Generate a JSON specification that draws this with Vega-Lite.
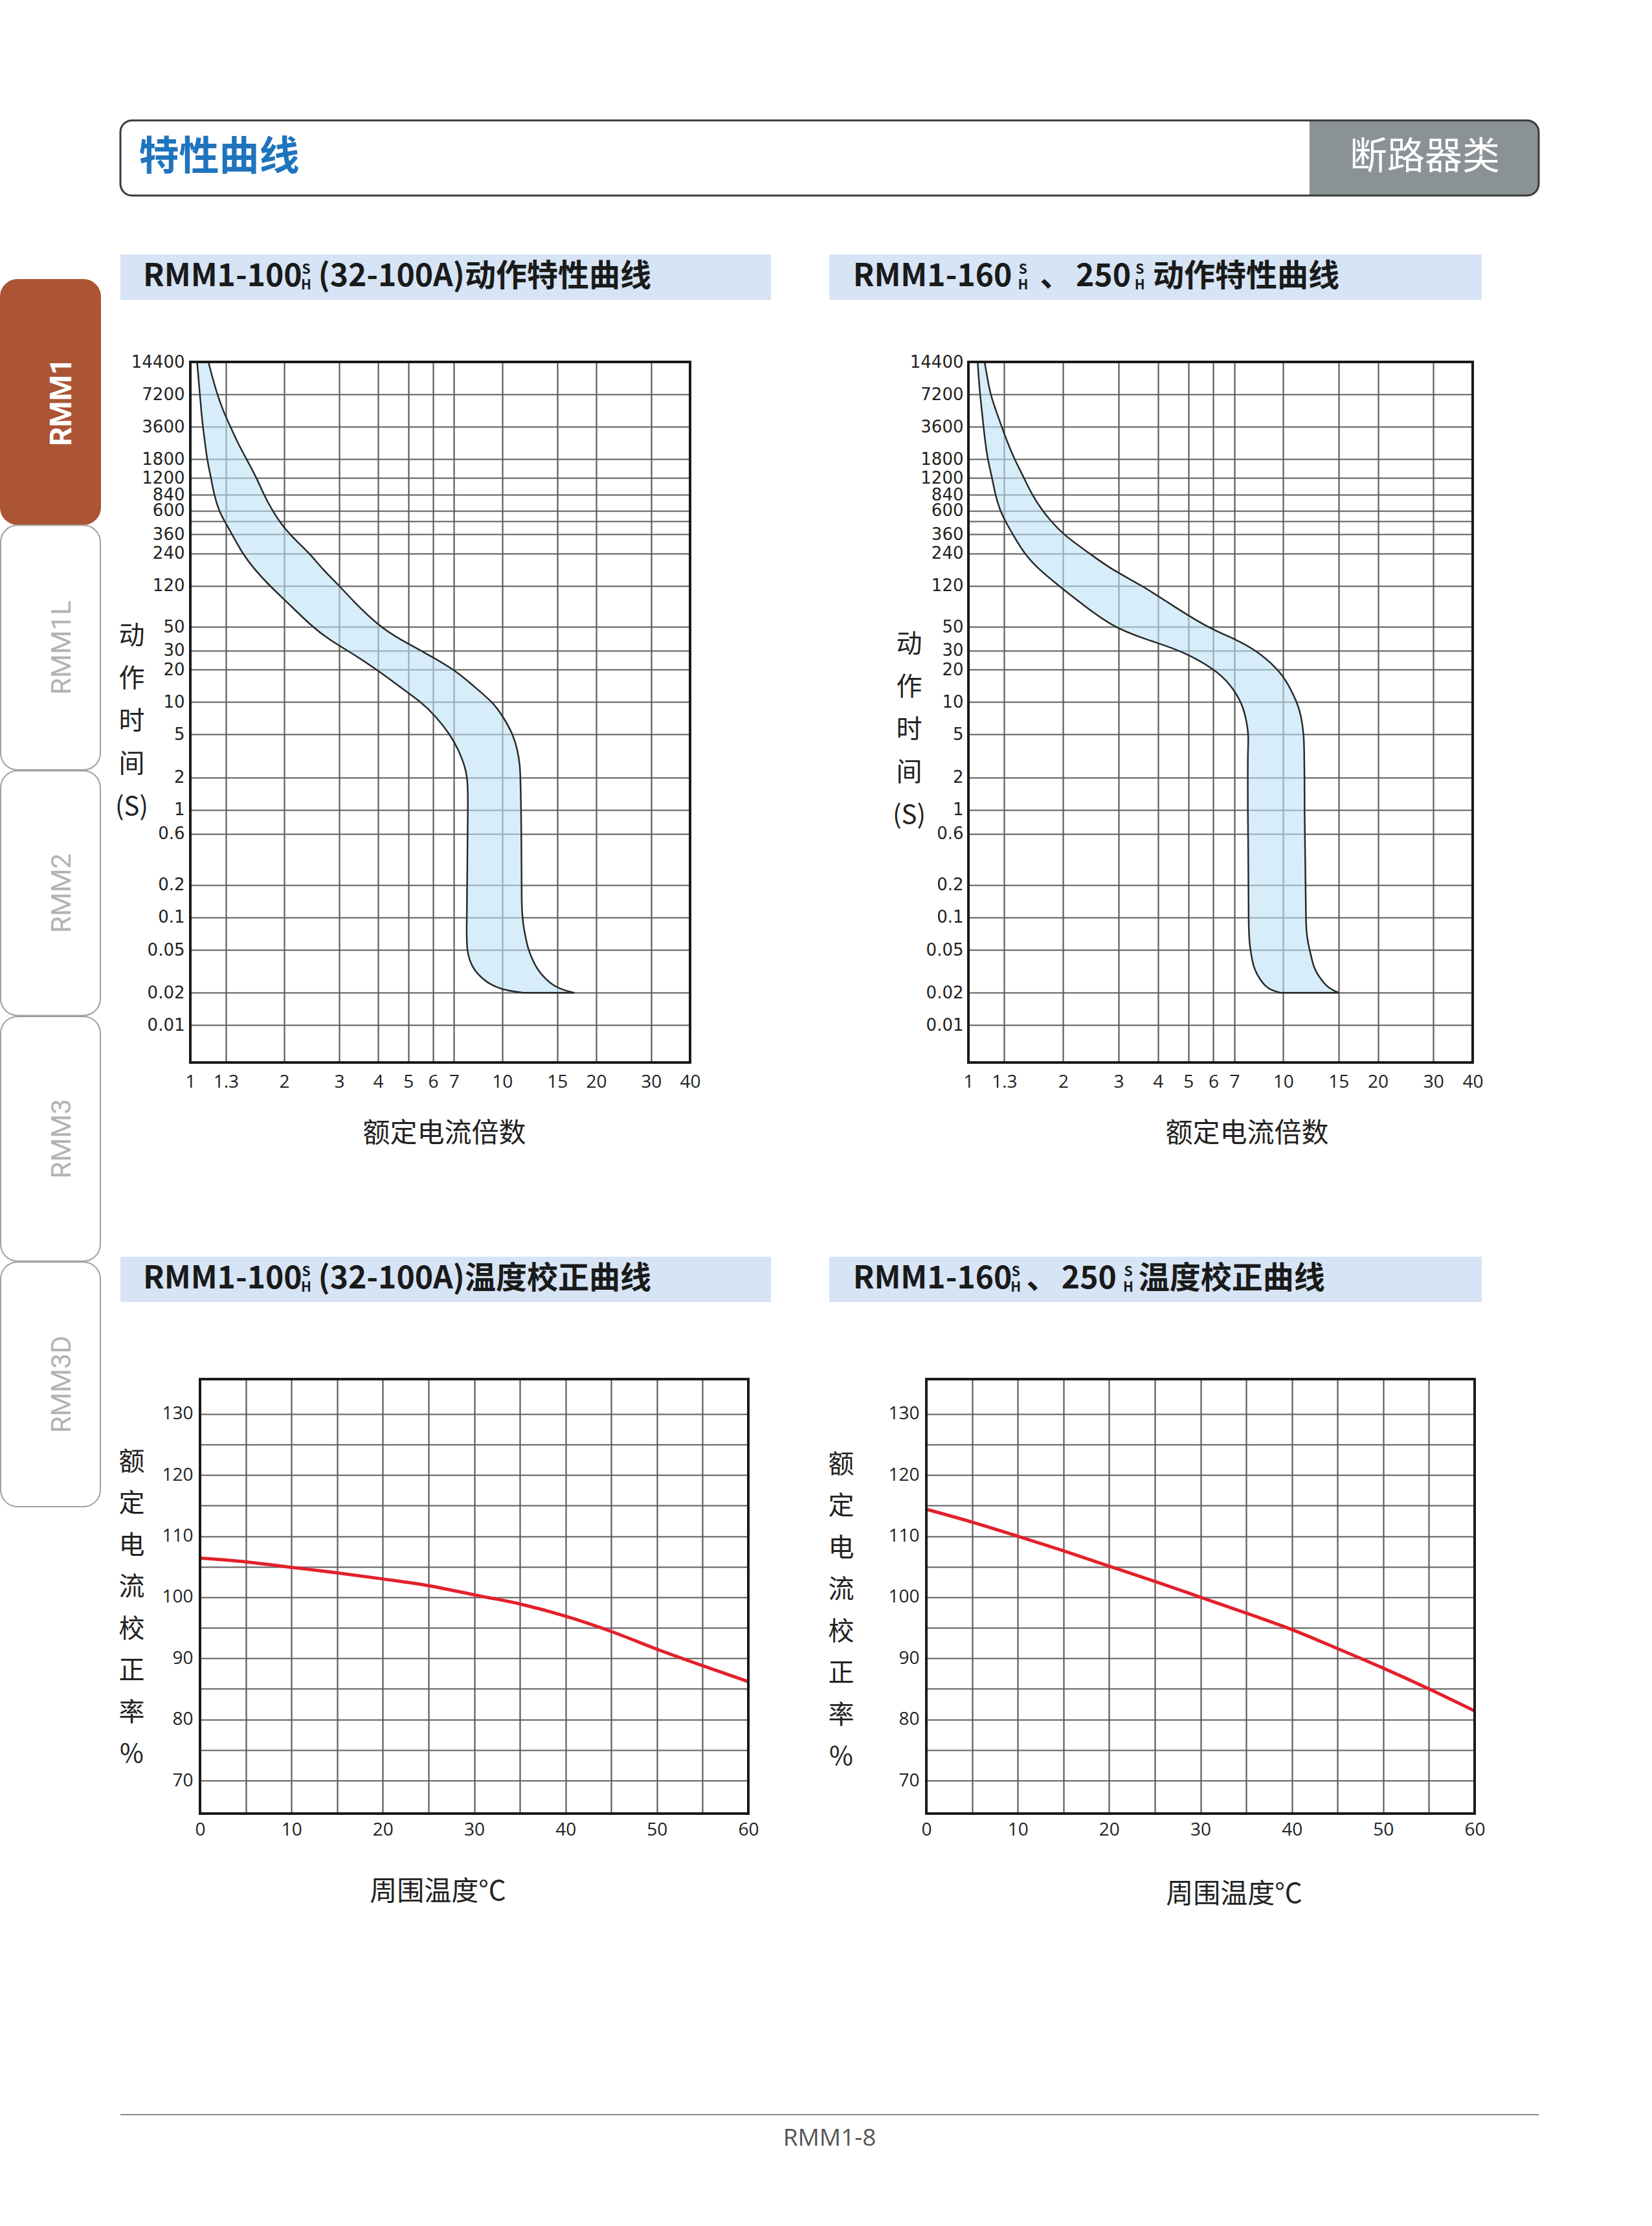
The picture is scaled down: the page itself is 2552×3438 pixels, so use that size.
{
"$schema": "https://vega.github.io/schema/vega-lite/v6.json",
"background": "white",
"padding": {"left": 0, "top": 184, "right": 0, "bottom": 0},
"bounds": "flush",
"spacing": 185,
"config": {"view": {"stroke": null}, "font": "Noto Sans CJK SC"},
"hconcat": [
 {"bounds": "flush", "spacing": 245, "vconcat": [
   {"width": 1, "height": 1, "data": {"values": [{}]}, "mark": {"type": "point", "opacity": 0, "size": 0}},
   {"width": 154, "height": 1895,
    "data": {"values": [{"tab": "RMM1", "active": "yes"}, {"tab": "RMM1L", "active": "no"}, {"tab": "RMM2", "active": "no"}, {"tab": "RMM3", "active": "no"}, {"tab": "RMM3D", "active": "no"}]},
    "layer": [
     {"transform": [{"filter": "datum.active == 'yes'"}],
      "mark": {"type": "rect", "cornerRadius": 26, "fill": "#AC5534", "stroke": "#AC5534", "strokeWidth": 2},
      "encoding": {"y": {"field": "tab", "type": "nominal", "scale": {"domain": ["RMM1", "RMM1L", "RMM2", "RMM3", "RMM3D"], "paddingInner": 0.004, "paddingOuter": 0}, "axis": null},
        "x": {"datum": 0, "type": "quantitative", "scale": {"domain": [0, 1], "nice": false}, "axis": null}, "x2": {"datum": 1}}},
     {"transform": [{"filter": "datum.active == 'no'"}],
      "mark": {"type": "rect", "cornerRadius": 26, "fill": "#FFFFFF", "stroke": "#A0A0A0", "strokeWidth": 2},
      "encoding": {"y": {"field": "tab", "type": "nominal"}, "x": {"datum": 0, "type": "quantitative"}, "x2": {"datum": 1}}},
     {"transform": [{"filter": "datum.active == 'yes'"}],
      "mark": {"type": "text", "angle": 270, "align": "center", "baseline": "middle", "font": "Roboto", "fontWeight": "bold", "fontSize": 46, "color": "#FFFFFF"},
      "encoding": {"y": {"field": "tab", "type": "nominal"}, "x": {"datum": 0.62, "type": "quantitative"}, "text": {"field": "tab"}}},
     {"transform": [{"filter": "datum.active == 'no'"}],
      "mark": {"type": "text", "angle": 270, "align": "center", "baseline": "middle", "font": "Roboto", "fontSize": 42, "color": "#B3B3B3"},
      "encoding": {"y": {"field": "tab", "type": "nominal"}, "x": {"datum": 0.62, "type": "quantitative"}, "text": {"field": "tab"}}}
    ]}
 ]},
 {"bounds": "flush", "spacing": 3080, "vconcat": [
  {"bounds": "flush", "spacing": 1755, "vconcat": [
   {"bounds": "flush", "spacing": 373, "vconcat": [
    {"bounds": "flush", "spacing": 91, "vconcat": [
     {"width": 2191, "height": 116, "data": {"values": [{}]},
      "layer": [
       {"mark": {"type": "rect", "fill": "#FFFFFF", "cornerRadius": 18},
        "encoding": {"x": {"datum": 0, "type": "quantitative", "scale": {"domain": [0, 1], "nice": false}, "axis": null}, "x2": {"datum": 1},
          "y": {"datum": 0, "type": "quantitative", "scale": {"domain": [0, 1], "nice": false}, "axis": null}, "y2": {"datum": 1}}},
       {"mark": {"type": "rect", "fill": "#8A9296", "cornerRadiusTopRight": 18, "cornerRadiusBottomRight": 18},
        "encoding": {"x": {"datum": 0.8384, "type": "quantitative"}, "x2": {"datum": 1}, "y": {"datum": 0, "type": "quantitative"}, "y2": {"datum": 1}}},
       {"mark": {"type": "rect", "fillOpacity": 0, "stroke": "#3a3a3a", "strokeWidth": 3, "cornerRadius": 18},
        "encoding": {"x": {"datum": 0, "type": "quantitative"}, "x2": {"datum": 1}, "y": {"datum": 0, "type": "quantitative"}, "y2": {"datum": 1}}},
       {"mark": {"type": "text", "align": "left", "baseline": "middle", "fontSize": 62, "fontWeight": "bold", "color": "#1F74BE"},
        "encoding": {"x": {"datum": 0.013, "type": "quantitative"}, "y": {"datum": 0.5, "type": "quantitative"}, "text": {"value": "特性曲线"}}},
       {"mark": {"type": "text", "align": "center", "baseline": "middle", "fontSize": 58, "color": "#FFFFFF"},
        "encoding": {"x": {"datum": 0.9197, "type": "quantitative"}, "y": {"datum": 0.5, "type": "quantitative"}, "text": {"value": "断路器类"}}}
      ]},
     {"bounds": "flush", "spacing": 90, "hconcat": [
      {"width": 1005, "height": 70, "view": {"fill": "#D6E4F5", "stroke": null}, "data": {"values": [{}]},
       "layer": [
        {"mark": {"type": "text", "align": "left", "baseline": "middle", "fontSize": 48, "fontWeight": "bold", "color": "#1a1a1a"},
         "encoding": {"x": {"datum": 0.0348, "type": "quantitative", "scale": {"domain": [0, 1], "nice": false}, "axis": null}, "y": {"datum": 0.5, "type": "quantitative", "scale": {"domain": [0, 1], "nice": false}, "axis": null}, "text": {"value": "RMM1-100"}}},
        {"mark": {"type": "text", "align": "center", "baseline": "middle", "fontSize": 21, "fontWeight": "bold", "color": "#1a1a1a"},
         "encoding": {"x": {"datum": 0.2856, "type": "quantitative"}, "y": {"datum": 0.657, "type": "quantitative"}, "text": {"value": "S"}}},
        {"mark": {"type": "text", "align": "center", "baseline": "middle", "fontSize": 21, "fontWeight": "bold", "color": "#1a1a1a"},
         "encoding": {"x": {"datum": 0.2856, "type": "quantitative"}, "y": {"datum": 0.314, "type": "quantitative"}, "text": {"value": "H"}}},
        {"mark": {"type": "text", "align": "left", "baseline": "middle", "fontSize": 48, "fontWeight": "bold", "color": "#1a1a1a"},
         "encoding": {"x": {"datum": 0.304, "type": "quantitative"}, "y": {"datum": 0.5, "type": "quantitative"}, "text": {"value": "(32-100A)动作特性曲线"}}}
       ]},
      {"width": 1008, "height": 70, "view": {"fill": "#D6E4F5", "stroke": null}, "data": {"values": [{}]},
       "layer": [
        {"mark": {"type": "text", "align": "left", "baseline": "middle", "fontSize": 48, "fontWeight": "bold", "color": "#1a1a1a"},
         "encoding": {"x": {"datum": 0.0364, "type": "quantitative", "scale": {"domain": [0, 1], "nice": false}, "axis": null}, "y": {"datum": 0.5, "type": "quantitative", "scale": {"domain": [0, 1], "nice": false}, "axis": null}, "text": {"value": "RMM1-160"}}},
        {"mark": {"type": "text", "align": "center", "baseline": "middle", "fontSize": 21, "fontWeight": "bold", "color": "#1a1a1a"},
         "encoding": {"x": {"datum": 0.297, "type": "quantitative"}, "y": {"datum": 0.657, "type": "quantitative"}, "text": {"value": "S"}}},
        {"mark": {"type": "text", "align": "center", "baseline": "middle", "fontSize": 21, "fontWeight": "bold", "color": "#1a1a1a"},
         "encoding": {"x": {"datum": 0.297, "type": "quantitative"}, "y": {"datum": 0.314, "type": "quantitative"}, "text": {"value": "H"}}},
        {"mark": {"type": "text", "align": "left", "baseline": "middle", "fontSize": 48, "fontWeight": "bold", "color": "#1a1a1a"},
         "encoding": {"x": {"datum": 0.323, "type": "quantitative"}, "y": {"datum": 0.5, "type": "quantitative"}, "text": {"value": "、"}}},
        {"mark": {"type": "text", "align": "left", "baseline": "middle", "fontSize": 48, "fontWeight": "bold", "color": "#1a1a1a"},
         "encoding": {"x": {"datum": 0.378, "type": "quantitative"}, "y": {"datum": 0.5, "type": "quantitative"}, "text": {"value": "250"}}},
        {"mark": {"type": "text", "align": "center", "baseline": "middle", "fontSize": 21, "fontWeight": "bold", "color": "#1a1a1a"},
         "encoding": {"x": {"datum": 0.476, "type": "quantitative"}, "y": {"datum": 0.657, "type": "quantitative"}, "text": {"value": "S"}}},
        {"mark": {"type": "text", "align": "center", "baseline": "middle", "fontSize": 21, "fontWeight": "bold", "color": "#1a1a1a"},
         "encoding": {"x": {"datum": 0.476, "type": "quantitative"}, "y": {"datum": 0.314, "type": "quantitative"}, "text": {"value": "H"}}},
        {"mark": {"type": "text", "align": "left", "baseline": "middle", "fontSize": 48, "fontWeight": "bold", "color": "#1a1a1a"},
         "encoding": {"x": {"datum": 0.496, "type": "quantitative"}, "y": {"datum": 0.5, "type": "quantitative"}, "text": {"value": "动作特性曲线"}}}
       ]}
     ]}
    ]},
    {"bounds": "flush", "spacing": 1310, "hconcat": [
     {"bounds": "flush", "spacing": 107, "hconcat": [
      {"width": 1, "height": 1, "data": {"values": [{}]}, "mark": {"type": "point", "opacity": 0, "size": 0}},
      {"width": 772, "height": 1082,
       "layer": [
        {"data": {"values": [
          {"t": 14400, "lo": 1.051, "hi": 1.143}, {"t": 10250, "lo": 1.062, "hi": 1.178}, {"t": 7200, "lo": 1.073, "hi": 1.22}, {"t": 5091, "lo": 1.084, "hi": 1.273},
          {"t": 3600, "lo": 1.097, "hi": 1.345}, {"t": 2597, "lo": 1.114, "hi": 1.415}, {"t": 1800, "lo": 1.131, "hi": 1.514}, {"t": 1200, "lo": 1.166, "hi": 1.633},
          {"t": 840, "lo": 1.192, "hi": 1.721}, {"t": 600, "lo": 1.235, "hi": 1.833}, {"t": 480, "lo": 1.286, "hi": 1.927}, {"t": 360, "lo": 1.362, "hi": 2.078},
          {"t": 240, "lo": 1.469, "hi": 2.416}, {"t": 171, "lo": 1.604, "hi": 2.652}, {"t": 120, "lo": 1.797, "hi": 3.007}, {"t": 86.6, "lo": 2.027, "hi": 3.326},
          {"t": 50, "lo": 2.459, "hi": 4.046}, {"t": 37.9, "lo": 2.789, "hi": 4.727}, {"t": 30, "lo": 3.203, "hi": 5.499}, {"t": 20, "lo": 3.965, "hi": 7.035},
          {"t": 14.4, "lo": 4.611, "hi": 8.018}, {"t": 10, "lo": 5.499, "hi": 9.32}, {"t": 7.54, "lo": 6.078, "hi": 10.0}, {"t": 5, "lo": 6.808, "hi": 10.84},
          {"t": 3.57, "lo": 7.251, "hi": 11.2}, {"t": 2.55, "lo": 7.586, "hi": 11.4}, {"t": 2, "lo": 7.72, "hi": 11.43}, {"t": 1.47, "lo": 7.76, "hi": 11.46},
          {"t": 1, "lo": 7.76, "hi": 11.49}, {"t": 0.6, "lo": 7.74, "hi": 11.51}, {"t": 0.2, "lo": 7.72, "hi": 11.54}, {"t": 0.136, "lo": 7.702, "hi": 11.54},
          {"t": 0.1, "lo": 7.702, "hi": 11.6}, {"t": 0.076, "lo": 7.683, "hi": 11.75}, {"t": 0.0579, "lo": 7.702, "hi": 11.99}, {"t": 0.05, "lo": 7.72, "hi": 12.14},
          {"t": 0.0396, "lo": 7.859, "hi": 12.54}, {"t": 0.0326, "lo": 8.121, "hi": 12.99}, {"t": 0.0268, "lo": 8.646, "hi": 13.76}, {"t": 0.0231, "lo": 9.32, "hi": 14.66},
          {"t": 0.021, "lo": 10.3, "hi": 15.81}, {"t": 0.02, "lo": 11.69, "hi": 17.03}]},
         "mark": {"type": "area", "orient": "horizontal", "interpolate": "basis", "fill": "#BCE3F7", "fillOpacity": 0.6, "stroke": "#2a2a2a", "strokeWidth": 2.5},
         "encoding": {
          "y": {"field": "t", "type": "quantitative", "scale": {"type": "log", "domain": [0.0045, 14400], "nice": false},
           "axis": {"values": [14400, 7200, 3600, 1800, 1200, 840, 600, 480, 360, 240, 120, 50, 30, 20, 10, 5, 2, 1, 0.6, 0.2, 0.1, 0.05, 0.02, 0.01],
            "format": "~g", "labelExpr": "datum.value == 480 ? '' : datum.label", "grid": true, "gridColor": "#5c5c5c", "gridWidth": 2.2, "ticks": false, "domain": false,
            "labelFont": "DejaVu Sans", "labelFontSize": 26, "labelColor": "#222", "labelPadding": 9, "labelOverlap": false, "labelFlush": false, "labelBaseline": "middle",
            "title": ["动", "作", "时", "间", "(S)"], "titleFont": "Noto Sans CJK SC", "titleFontSize": 40, "titleFontWeight": "normal", "titleColor": "#222",
            "titleAngle": 0, "titleAlign": "center", "titleBaseline": "middle", "titleLineHeight": 66, "titleX": -91, "titleY": 423}},
          "x": {"field": "lo", "type": "quantitative", "scale": {"type": "log", "domain": [1, 40], "nice": false},
           "axis": {"values": [1, 1.3, 2, 3, 4, 5, 6, 7, 10, 15, 20, 30, 40], "format": "~g", "grid": true, "gridColor": "#5c5c5c", "gridWidth": 2.2, "ticks": false, "domain": false,
            "labelFont": "Open Sans", "labelFontSize": 28, "labelColor": "#222", "labelPadding": 16, "labelOverlap": false, "labelFlush": false,
            "title": "额定电流倍数", "titleFont": "Noto Sans CJK SC", "titleFontSize": 42, "titleFontWeight": "normal", "titleColor": "#222",
            "titleX": 392, "titleY": 109, "titleAlign": "center", "titleBaseline": "middle"}},
          "x2": {"field": "hi"}}},
        {"data": {"values": [{}]},
         "mark": {"type": "rect", "fillOpacity": 0, "stroke": "#1a1a1a", "strokeWidth": 4},
         "encoding": {"x": {"datum": 1, "type": "quantitative"}, "x2": {"datum": 40}, "y": {"datum": 0.0045, "type": "quantitative"}, "y2": {"datum": 14400}}}
       ]}
     ]},
     {"width": 779, "height": 1082,
      "layer": [
       {"data": {"values": [
         {"t": 14400, "lo": 1.07, "hi": 1.126}, {"t": 10250, "lo": 1.078, "hi": 1.148}, {"t": 7200, "lo": 1.089, "hi": 1.175}, {"t": 5091, "lo": 1.103, "hi": 1.223},
         {"t": 3600, "lo": 1.117, "hi": 1.276}, {"t": 2597, "lo": 1.131, "hi": 1.329}, {"t": 1800, "lo": 1.151, "hi": 1.401}, {"t": 1200, "lo": 1.19, "hi": 1.503},
         {"t": 840, "lo": 1.217, "hi": 1.593}, {"t": 600, "lo": 1.261, "hi": 1.718}, {"t": 480, "lo": 1.309, "hi": 1.829}, {"t": 360, "lo": 1.384, "hi": 1.998},
         {"t": 240, "lo": 1.503, "hi": 2.425}, {"t": 171, "lo": 1.671, "hi": 2.842}, {"t": 120, "lo": 1.939, "hi": 3.573}, {"t": 86.6, "lo": 2.232, "hi": 4.24},
         {"t": 50, "lo": 2.856, "hi": 5.677}, {"t": 37.9, "lo": 3.69, "hi": 7.121}, {"t": 30, "lo": 4.771, "hi": 8.239}, {"t": 20, "lo": 6.091, "hi": 9.678},
         {"t": 14.4, "lo": 6.823, "hi": 10.41}, {"t": 10, "lo": 7.358, "hi": 11.06}, {"t": 7.54, "lo": 7.584, "hi": 11.4}, {"t": 5, "lo": 7.778, "hi": 11.63},
         {"t": 3.57, "lo": 7.72, "hi": 11.66}, {"t": 2, "lo": 7.72, "hi": 11.69}, {"t": 1, "lo": 7.72, "hi": 11.69}, {"t": 0.6, "lo": 7.737, "hi": 11.72},
         {"t": 0.2, "lo": 7.757, "hi": 11.78}, {"t": 0.1, "lo": 7.766, "hi": 11.81}, {"t": 0.076, "lo": 7.778, "hi": 11.84}, {"t": 0.0579, "lo": 7.817, "hi": 11.99},
         {"t": 0.05, "lo": 7.876, "hi": 12.14}, {"t": 0.0396, "lo": 7.974, "hi": 12.36}, {"t": 0.0326, "lo": 8.117, "hi": 12.6}, {"t": 0.0268, "lo": 8.426, "hi": 13.16},
         {"t": 0.0231, "lo": 8.75, "hi": 13.7}, {"t": 0.021, "lo": 9.204, "hi": 14.41}, {"t": 0.02, "lo": 9.8, "hi": 15.03}]},
        "mark": {"type": "area", "orient": "horizontal", "interpolate": "basis", "fill": "#BCE3F7", "fillOpacity": 0.6, "stroke": "#2a2a2a", "strokeWidth": 2.5},
        "encoding": {
         "y": {"field": "t", "type": "quantitative", "scale": {"type": "log", "domain": [0.0045, 14400], "nice": false},
          "axis": {"values": [14400, 7200, 3600, 1800, 1200, 840, 600, 480, 360, 240, 120, 50, 30, 20, 10, 5, 2, 1, 0.6, 0.2, 0.1, 0.05, 0.02, 0.01],
           "format": "~g", "labelExpr": "datum.value == 480 ? '' : datum.label", "grid": true, "gridColor": "#5c5c5c", "gridWidth": 2.2, "ticks": false, "domain": false,
           "labelFont": "DejaVu Sans", "labelFontSize": 26, "labelColor": "#222", "labelPadding": 8, "labelOverlap": false, "labelFlush": false, "labelBaseline": "middle",
           "title": ["动", "作", "时", "间", "(S)"], "titleFont": "Noto Sans CJK SC", "titleFontSize": 40, "titleFontWeight": "normal", "titleColor": "#222",
           "titleAngle": 0, "titleAlign": "center", "titleBaseline": "middle", "titleLineHeight": 66, "titleX": -92, "titleY": 436}},
         "x": {"field": "lo", "type": "quantitative", "scale": {"type": "log", "domain": [1, 40], "nice": false},
          "axis": {"values": [1, 1.3, 2, 3, 4, 5, 6, 7, 10, 15, 20, 30, 40], "format": "~g", "grid": true, "gridColor": "#5c5c5c", "gridWidth": 2.2, "ticks": false, "domain": false,
           "labelFont": "Open Sans", "labelFontSize": 28, "labelColor": "#222", "labelPadding": 16, "labelOverlap": false, "labelFlush": false,
           "title": "额定电流倍数", "titleFont": "Noto Sans CJK SC", "titleFontSize": 42, "titleFontWeight": "normal", "titleColor": "#222",
           "titleX": 430, "titleY": 109, "titleAlign": "center", "titleBaseline": "middle"}},
         "x2": {"field": "hi"}}},
       {"data": {"values": [{}]},
        "mark": {"type": "rect", "fillOpacity": 0, "stroke": "#1a1a1a", "strokeWidth": 4},
        "encoding": {"x": {"datum": 1, "type": "quantitative"}, "x2": {"datum": 40}, "y": {"datum": 0.0045, "type": "quantitative"}, "y2": {"datum": 14400}}}
      ]}
    ]}
   ]},
   {"bounds": "flush", "spacing": 189, "vconcat": [
    {"bounds": "flush", "spacing": 90, "hconcat": [
     {"width": 1005, "height": 70, "view": {"fill": "#D6E4F5", "stroke": null}, "data": {"values": [{}]},
      "layer": [
       {"mark": {"type": "text", "align": "left", "baseline": "middle", "fontSize": 48, "fontWeight": "bold", "color": "#1a1a1a"},
        "encoding": {"x": {"datum": 0.0348, "type": "quantitative", "scale": {"domain": [0, 1], "nice": false}, "axis": null}, "y": {"datum": 0.5, "type": "quantitative", "scale": {"domain": [0, 1], "nice": false}, "axis": null}, "text": {"value": "RMM1-100"}}},
       {"mark": {"type": "text", "align": "center", "baseline": "middle", "fontSize": 21, "fontWeight": "bold", "color": "#1a1a1a"},
        "encoding": {"x": {"datum": 0.2856, "type": "quantitative"}, "y": {"datum": 0.657, "type": "quantitative"}, "text": {"value": "S"}}},
       {"mark": {"type": "text", "align": "center", "baseline": "middle", "fontSize": 21, "fontWeight": "bold", "color": "#1a1a1a"},
        "encoding": {"x": {"datum": 0.2856, "type": "quantitative"}, "y": {"datum": 0.314, "type": "quantitative"}, "text": {"value": "H"}}},
       {"mark": {"type": "text", "align": "left", "baseline": "middle", "fontSize": 48, "fontWeight": "bold", "color": "#1a1a1a"},
        "encoding": {"x": {"datum": 0.304, "type": "quantitative"}, "y": {"datum": 0.5, "type": "quantitative"}, "text": {"value": "(32-100A)温度校正曲线"}}}
      ]},
     {"width": 1008, "height": 70, "view": {"fill": "#D6E4F5", "stroke": null}, "data": {"values": [{}]},
      "layer": [
       {"mark": {"type": "text", "align": "left", "baseline": "middle", "fontSize": 48, "fontWeight": "bold", "color": "#1a1a1a"},
        "encoding": {"x": {"datum": 0.0364, "type": "quantitative", "scale": {"domain": [0, 1], "nice": false}, "axis": null}, "y": {"datum": 0.5, "type": "quantitative", "scale": {"domain": [0, 1], "nice": false}, "axis": null}, "text": {"value": "RMM1-160"}}},
       {"mark": {"type": "text", "align": "center", "baseline": "middle", "fontSize": 21, "fontWeight": "bold", "color": "#1a1a1a"},
        "encoding": {"x": {"datum": 0.286, "type": "quantitative"}, "y": {"datum": 0.657, "type": "quantitative"}, "text": {"value": "S"}}},
       {"mark": {"type": "text", "align": "center", "baseline": "middle", "fontSize": 21, "fontWeight": "bold", "color": "#1a1a1a"},
        "encoding": {"x": {"datum": 0.286, "type": "quantitative"}, "y": {"datum": 0.314, "type": "quantitative"}, "text": {"value": "H"}}},
       {"mark": {"type": "text", "align": "left", "baseline": "middle", "fontSize": 48, "fontWeight": "bold", "color": "#1a1a1a"},
        "encoding": {"x": {"datum": 0.302, "type": "quantitative"}, "y": {"datum": 0.5, "type": "quantitative"}, "text": {"value": "、"}}},
       {"mark": {"type": "text", "align": "left", "baseline": "middle", "fontSize": 48, "fontWeight": "bold", "color": "#1a1a1a"},
        "encoding": {"x": {"datum": 0.356, "type": "quantitative"}, "y": {"datum": 0.5, "type": "quantitative"}, "text": {"value": "250"}}},
       {"mark": {"type": "text", "align": "center", "baseline": "middle", "fontSize": 21, "fontWeight": "bold", "color": "#1a1a1a"},
        "encoding": {"x": {"datum": 0.4583, "type": "quantitative"}, "y": {"datum": 0.657, "type": "quantitative"}, "text": {"value": "S"}}},
       {"mark": {"type": "text", "align": "center", "baseline": "middle", "fontSize": 21, "fontWeight": "bold", "color": "#1a1a1a"},
        "encoding": {"x": {"datum": 0.4583, "type": "quantitative"}, "y": {"datum": 0.314, "type": "quantitative"}, "text": {"value": "H"}}},
       {"mark": {"type": "text", "align": "left", "baseline": "middle", "fontSize": 48, "fontWeight": "bold", "color": "#1a1a1a"},
        "encoding": {"x": {"datum": 0.474, "type": "quantitative"}, "y": {"datum": 0.5, "type": "quantitative"}, "text": {"value": "温度校正曲线"}}}
      ]}
    ]},
    {"bounds": "flush", "spacing": 1245, "hconcat": [
     {"bounds": "flush", "spacing": 122, "hconcat": [
      {"width": 1, "height": 1, "data": {"values": [{}]}, "mark": {"type": "point", "opacity": 0, "size": 0}},
      {"width": 847, "height": 671,
       "layer": [
        {"data": {"values": [{"T": 0, "v": 106.4}, {"T": 5, "v": 105.8}, {"T": 10, "v": 104.9}, {"T": 15, "v": 104.0}, {"T": 20, "v": 103.0}, {"T": 25, "v": 101.9}, {"T": 30, "v": 100.4}, {"T": 35, "v": 98.9}, {"T": 40, "v": 96.9}, {"T": 45, "v": 94.4}, {"T": 50, "v": 91.5}, {"T": 55, "v": 88.8}, {"T": 60, "v": 86.2}]},
         "mark": {"type": "line", "color": "#E3202A", "strokeWidth": 5, "interpolate": "monotone"},
         "encoding": {
          "x": {"field": "T", "type": "quantitative", "scale": {"domain": [0, 60], "nice": false, "zero": false},
           "axis": {"values": [0, 5, 10, 15, 20, 25, 30, 35, 40, 45, 50, 55, 60], "labelExpr": "datum.value % 10 == 0 ? datum.label : ''", "grid": true, "gridColor": "#5c5c5c", "gridWidth": 2.2, "ticks": false, "domain": false,
            "labelFont": "Open Sans", "labelFontSize": 28, "labelColor": "#222", "labelPadding": 11, "labelOverlap": false, "labelFlush": false,
            "title": "周围温度°C", "titleFont": "Noto Sans CJK SC", "titleFontSize": 42, "titleFontWeight": "normal", "titleColor": "#222", "titleX": 367, "titleY": 120, "titleAlign": "center", "titleBaseline": "middle"}},
          "y": {"field": "v", "type": "quantitative", "scale": {"domain": [64.6, 135.7], "nice": false, "zero": false},
           "axis": {"values": [70, 75, 80, 85, 90, 95, 100, 105, 110, 115, 120, 125, 130], "labelExpr": "datum.value % 10 == 0 ? datum.label : ''", "grid": true, "gridColor": "#5c5c5c", "gridWidth": 2.2, "ticks": false, "domain": false,
            "labelFont": "Open Sans", "labelFontSize": 28, "labelColor": "#222", "labelPadding": 11, "labelOverlap": false, "labelFlush": false, "labelBaseline": "middle",
            "title": ["额", "定", "电", "流", "校", "正", "率", "%"], "titleFont": "Noto Sans CJK SC", "titleFontSize": 40, "titleFontWeight": "normal", "titleColor": "#222",
            "titleAngle": 0, "titleAlign": "center", "titleBaseline": "middle", "titleLineHeight": 64.5, "titleX": -106, "titleY": 128}}}},
        {"data": {"values": [{}]},
         "mark": {"type": "rect", "fillOpacity": 0, "stroke": "#1a1a1a", "strokeWidth": 4},
         "encoding": {"x": {"datum": 0, "type": "quantitative"}, "x2": {"datum": 60}, "y": {"datum": 64.6, "type": "quantitative"}, "y2": {"datum": 135.7}}}
       ]}
     ]},
     {"width": 847, "height": 671,
      "layer": [
       {"data": {"values": [{"T": 0, "v": 114.4}, {"T": 5, "v": 112.3}, {"T": 10, "v": 110.0}, {"T": 15, "v": 107.6}, {"T": 20, "v": 105.1}, {"T": 25, "v": 102.6}, {"T": 30, "v": 100.0}, {"T": 35, "v": 97.4}, {"T": 40, "v": 94.7}, {"T": 45, "v": 91.6}, {"T": 50, "v": 88.4}, {"T": 55, "v": 85.0}, {"T": 60, "v": 81.4}]},
        "mark": {"type": "line", "color": "#E3202A", "strokeWidth": 5, "interpolate": "monotone"},
        "encoding": {
         "x": {"field": "T", "type": "quantitative", "scale": {"domain": [0, 60], "nice": false, "zero": false},
          "axis": {"values": [0, 5, 10, 15, 20, 25, 30, 35, 40, 45, 50, 55, 60], "labelExpr": "datum.value % 10 == 0 ? datum.label : ''", "grid": true, "gridColor": "#5c5c5c", "gridWidth": 2.2, "ticks": false, "domain": false,
           "labelFont": "Open Sans", "labelFontSize": 28, "labelColor": "#222", "labelPadding": 11, "labelOverlap": false, "labelFlush": false,
           "title": "周围温度°C", "titleFont": "Noto Sans CJK SC", "titleFontSize": 42, "titleFontWeight": "normal", "titleColor": "#222", "titleX": 475, "titleY": 124, "titleAlign": "center", "titleBaseline": "middle"}},
         "y": {"field": "v", "type": "quantitative", "scale": {"domain": [64.6, 135.7], "nice": false, "zero": false},
          "axis": {"values": [70, 75, 80, 85, 90, 95, 100, 105, 110, 115, 120, 125, 130], "labelExpr": "datum.value % 10 == 0 ? datum.label : ''", "grid": true, "gridColor": "#5c5c5c", "gridWidth": 2.2, "ticks": false, "domain": false,
           "labelFont": "Open Sans", "labelFontSize": 28, "labelColor": "#222", "labelPadding": 11, "labelOverlap": false, "labelFlush": false, "labelBaseline": "middle",
           "title": ["额", "定", "电", "流", "校", "正", "率", "%"], "titleFont": "Noto Sans CJK SC", "titleFontSize": 40, "titleFontWeight": "normal", "titleColor": "#222",
           "titleAngle": 0, "titleAlign": "center", "titleBaseline": "middle", "titleLineHeight": 64.5, "titleX": -132, "titleY": 132}}}},
       {"data": {"values": [{}]},
        "mark": {"type": "rect", "fillOpacity": 0, "stroke": "#1a1a1a", "strokeWidth": 4},
        "encoding": {"x": {"datum": 0, "type": "quantitative"}, "x2": {"datum": 60}, "y": {"datum": 64.6, "type": "quantitative"}, "y2": {"datum": 135.7}}}
      ]}
    ]}
   ]}
  ]},
  {"width": 2191, "height": 80, "data": {"values": [{}]},
   "layer": [
    {"mark": {"type": "rule", "color": "#8a8a8a", "strokeWidth": 2},
     "encoding": {"x": {"datum": 0, "type": "quantitative", "scale": {"domain": [0, 1], "nice": false}, "axis": null}, "x2": {"datum": 1},
       "y": {"datum": 1, "type": "quantitative", "scale": {"domain": [0, 1], "nice": false}, "axis": null}}},
    {"mark": {"type": "text", "align": "center", "baseline": "middle", "font": "Open Sans", "fontSize": 37, "color": "#555555"},
     "encoding": {"x": {"datum": 0.5, "type": "quantitative"}, "y": {"datum": 0.54, "type": "quantitative"}, "text": {"value": "RMM1-8"}}}
   ]}
 ]}
]
}
